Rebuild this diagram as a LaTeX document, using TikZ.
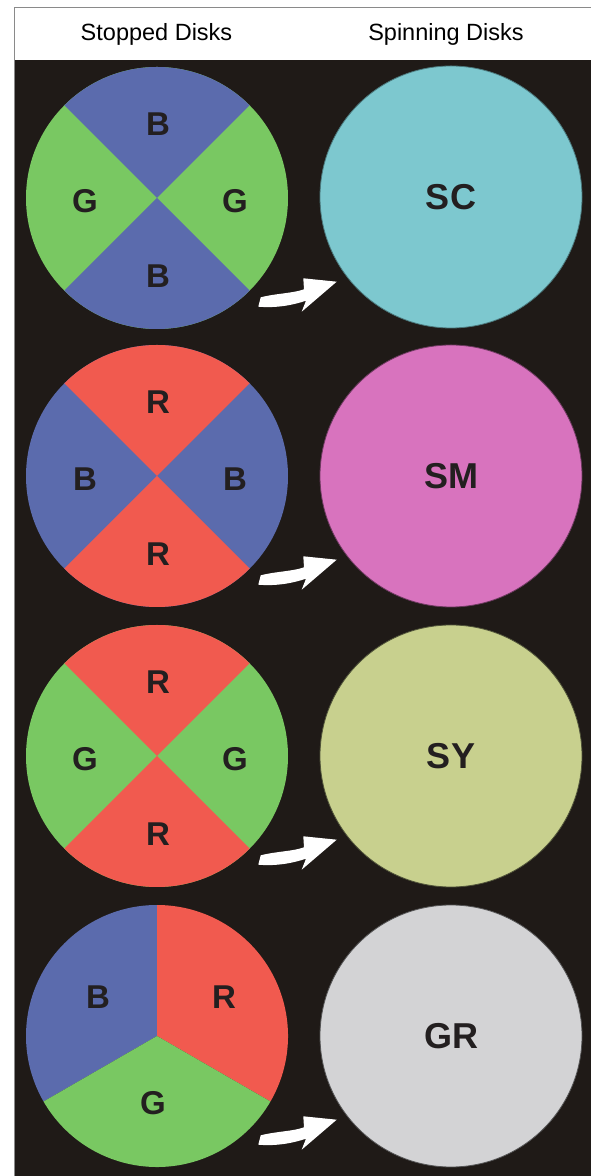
\documentclass[tikz,border=0pt]{standalone}
\usepackage{fontspec}
\setmainfont{Liberation Sans}
\definecolor{bgblack}{HTML}{1F1A17}
\definecolor{framegray}{HTML}{8A8A8A}
\definecolor{dblue}{HTML}{5B6BAD}
\definecolor{dgreen}{HTML}{79C862}
\definecolor{dred}{HTML}{F15A4F}
\definecolor{scyan}{HTML}{7DC8CF}
\definecolor{smag}{HTML}{D873BE}
\definecolor{syel}{HTML}{C8D08E}
\definecolor{sgray}{HTML}{D3D3D5}
\definecolor{txt}{HTML}{231F20}
\tikzset{
  lbl/.style={inner sep=0pt, text=txt, font=\fontsize{33}{33}\selectfont\bfseries},
  slbl/.style={inner sep=0pt, text=txt, font=\fontsize{36}{36}\selectfont\bfseries},
  head/.style={inner sep=0pt, text=black, font=\fontsize{23.5}{24}\selectfont},
  spin/.style={circle, minimum size=262pt, inner sep=0pt, line width=0.8pt},
}
\newcommand{\xdisk}[6]{%
\begin{scope}[shift={(157,#2)}]
  \coordinate (#1) at (0,0);
  \fill[#4] (0,0) circle[radius=131];
  \fill[#3] (0,0) -- (45:131) arc[start angle=45,end angle=135,radius=131] -- cycle;
  \fill[#3] (0,0) -- (225:131) arc[start angle=225,end angle=315,radius=131] -- cycle;
  \node[lbl] (#1t) at (1,74) {#5};
  \node[lbl] (#1b) at (1,-78) {#5};
  \node[lbl] (#1l) at (-72,-3) {#6};
  \node[lbl] (#1r) at (78,-3) {#6};
\end{scope}}
\newcommand{\spinarrow}[1]{%
\fill[white,shift={(157,#1)}] (103.7,-99.3) .. controls (119.7,-95.3) and (136.3,-95.3) .. (147,-91.3) -- (146.3,-80.3) -- (179.7,-83.7) -- (144.7,-113.7) -- (149,-102.7) .. controls (136.3,-107) and (119.7,-110.3) .. (101.3,-108.7) -- cycle;}
\begin{document}
\begin{tikzpicture}[x=1pt,y=1pt]
\useasboundingbox (0,0) rectangle (591,1176);
\fill[white] (0,0) rectangle (591,1176);
\fill[bgblack] (14,0) rectangle (591,1116);
\draw[framegray, line width=1pt] (14,0) -- (14,1168) -- (591,1168);
\node[head] (h1) at (156.5,1142) {Stopped Disks};
\node[head] (h2) at (446,1142) {Spinning Disks};

% stopped disks
\xdisk{d1}{978}{dblue}{dgreen}{B}{G}
\xdisk{d2}{700}{dred}{dblue}{R}{B}
\xdisk{d3}{420}{dred}{dgreen}{R}{G}
\begin{scope}[shift={(157,140)}]
  \coordinate (d4) at (0,0);
  \fill[dblue] (0,0) -- (90:131) arc[start angle=90,end angle=210,radius=131] -- cycle;
  \fill[dred] (0,0) -- (-30:131) arc[start angle=-30,end angle=90,radius=131] -- cycle;
  \fill[dgreen] (0,0) -- (210:131) arc[start angle=210,end angle=330,radius=131] -- cycle;
  \node[lbl] (d4b) at (-59,39) {B};
  \node[lbl] (d4r) at (67,39) {R};
  \node[lbl] (d4g) at (-4,-67) {G};
\end{scope}

% spinning disks
\node[spin, fill=scyan, draw=scyan!60!black] (s1) at (451,979) {};
\node[spin, fill=smag, draw=smag!50!black] (s2) at (451,700) {};
\node[spin, fill=syel, draw=syel!40!black] (s3) at (451,420) {};
\node[spin, fill=sgray, draw=sgray!40!black] (s4) at (451,140) {};
\node[slbl] at (s1.center) {SC};
\node[slbl] at (s2.center) {SM};
\node[slbl] at (s3.center) {SY};
\node[slbl] at (s4.center) {GR};

% arrows
\spinarrow{978}
\spinarrow{700}
\spinarrow{420}
\spinarrow{140}
\end{tikzpicture}
\end{document}
